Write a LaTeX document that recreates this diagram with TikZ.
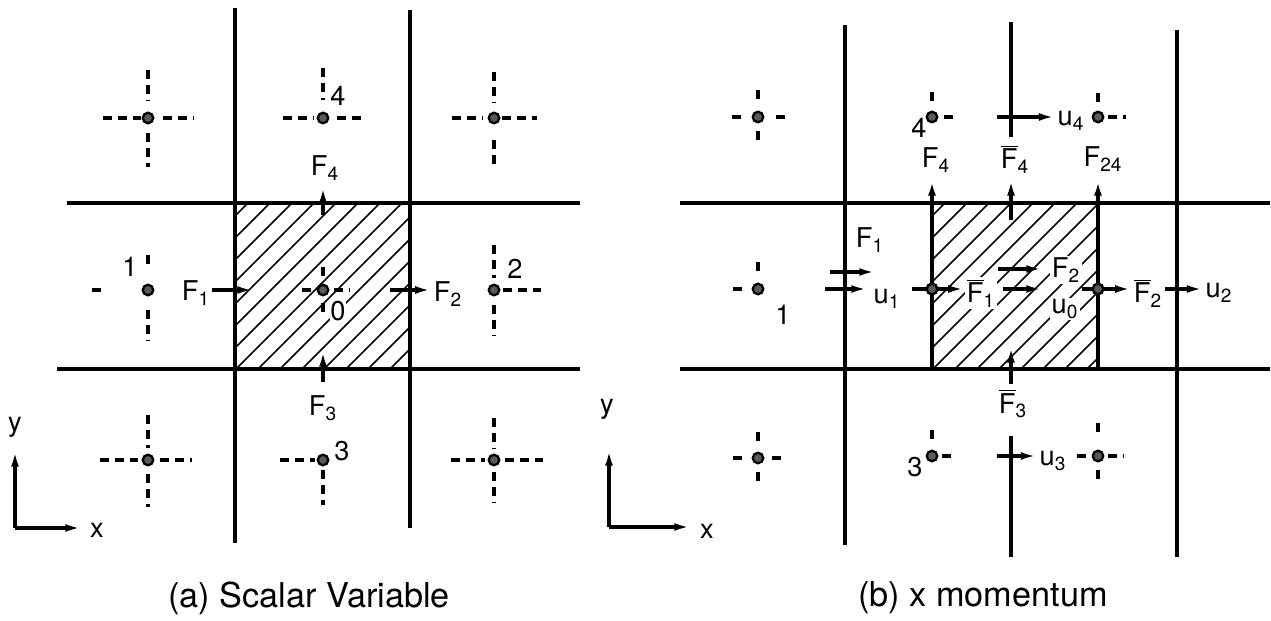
\documentclass[tikz,border=0pt]{standalone}
\usepackage{fontspec}
\setmainfont{TeX Gyre Heros}
\usetikzlibrary{arrows.meta}

\newcommand{\Fbar}[1]{$\overline{\hbox{F}}$\textsubscript{#1}}

\begin{document}
\begin{tikzpicture}[x=0.02cm, y=-0.02cm, >={Latex[length=9.5pt,width=4.4pt]},
  wall/.style={line width=2pt},
  arm/.style={line width=2pt, dash pattern=on 5pt off 3.4pt},
  pt/.style={circle, draw, fill=black!65, line width=1.3pt, inner sep=0pt, minimum size=6pt},
  flux/.style={->, line width=1.8pt},
  hatch/.style={line width=0.9pt},
  lbl/.style={font=\fontsize{15.5}{17}\selectfont, inner sep=1pt},
  figcap/.style={font=\fontsize{19.5}{22}\selectfont}]
  \useasboundingbox (0,0) rectangle (1271,621);

  % (a) scalar control volume
  \begin{scope}
    \clip (235,203) rectangle (410,369);
    \foreach \k in {0,...,16} \draw[hatch] (60+\k*22,369) -- ++(200,-200);
  \end{scope}
  \draw[wall] (235,8) -- (235,543);
  \draw[wall] (410,10) -- (410,528);
  \draw[wall] (67,203) -- (580,203);
  \draw[wall] (57,369) -- (580,369);
  % dashed crosses
  \draw[arm] (103,118) -- (142,118);  \draw[arm] (163,118) -- (193,118);
  \draw[arm] (148,70) -- (148,100);   \draw[arm] (148,133) -- (148,167);
  \draw[arm] (283,118) -- (313,118);  \draw[arm] (337,118) -- (363,118);
  \draw[arm] (323,68) -- (323,100);
  \draw[arm] (452,118) -- (483,118);  \draw[arm] (502,118) -- (537,118);
  \draw[arm] (494,72) -- (494,103);   \draw[arm] (494,140) -- (494,168);
  \draw[arm] (92,290) -- (104,290);   \draw[arm] (148,255) -- (148,266);
  \draw[arm] (148,310) -- (148,340);
  \draw[arm] (302,290) -- (313,290);  \draw[arm] (334,290) -- (350,290);
  \draw[arm] (323,267) -- (323,280);  \draw[arm] (323,303) -- (323,313);
  \draw[arm] (494,245) -- (494,278);  \draw[arm] (503,290) -- (543,290);
  \draw[arm] (494,305) -- (494,335);
  \draw[arm] (100,460) -- (141,460);  \draw[arm] (160,460) -- (192,460);
  \draw[arm] (148,415) -- (148,448);  \draw[arm] (148,474) -- (148,507);
  \draw[arm] (280,460) -- (315,460);  \draw[arm] (323,470) -- (323,505);
  \draw[arm] (451,460) -- (485,460);  \draw[arm] (505,460) -- (544,460);
  \draw[arm] (494,418) -- (494,448);  \draw[arm] (494,472) -- (494,502);
  % grid points
  \node[pt] (aNW) at (148,118) {};
  \node[pt] (aN)  at (323,118) {};
  \node[pt] (aNE) at (494,118) {};
  \node[pt] (aW)  at (148,290) {};
  \node[pt] (aC)  at (323,290) {};
  \node[pt] (aE)  at (494,290) {};
  \node[pt] (aSW) at (148,460) {};
  \node[pt] (aS)  at (323,460) {};
  \node[pt] (aSE) at (494,460) {};
  \node[lbl] (aN4) at (338,96) {4};
  \node[lbl] (aW1) at (130,267) {1};
  \node[lbl] (aE2) at (515,269) {2};
  \node[lbl, fill=white, inner sep=0.5pt] (aC0) at (338,311) {0};
  \node[lbl] (aS3) at (342,451) {3};
  % fluxes
  \node[lbl] (aF4) at (325,168) {F\textsubscript{4}};
  \node[lbl] (aF1) at (196,293) {F\textsubscript{1}};
  \node[lbl] (aF2) at (448,294) {F\textsubscript{2}};
  \node[lbl] (aF3) at (323,408) {F\textsubscript{3}};
  \draw[flux] (323,215) -- (323,186);
  \draw[flux] (aF1.east |- aW) -- (254,290);
  \draw[flux] (390,290) -- (aF2.west |- aE);
  \draw[flux] (323,382) -- (323,350);
  % axes
  \coordinate (aO) at (15,528);
  \draw[flux] (aO) -- (15,450);
  \draw[flux] (aO) -- (82,528);
  \node[lbl] (ay) at (15,427) {y};
  \node[lbl] (ax) at (97,530) {x};
  \node[figcap] (acap) at (309,598) {(a) Scalar Variable};

  % (b) x momentum control volume
  \begin{scope}
    \clip (932,203) rectangle (1098,369);
    \foreach \k in {0,...,16} \draw[hatch] (757+\k*22,369) -- ++(200,-200);
  \end{scope}
  \draw[wall] (845,25) -- (845,545);
  \draw[wall] (1011,22) -- (1011,137);
  \draw[wall] (1011,436) -- (1011,557);
  \draw[wall] (1177,30) -- (1177,557);
  \draw[wall] (680,203) -- (1270,203);
  \draw[wall] (680,369) -- (1270,369);
  % dashed crosses
  \draw[arm] (732,117) -- (744,117);  \draw[arm] (776,117) -- (787,117);
  \draw[arm] (758,90) -- (758,103);   \draw[arm] (758,131) -- (758,145);
  \draw[arm] (932,92) -- (932,105);   \draw[arm] (944,117) -- (957,117);
  \draw[arm] (1098,93) -- (1098,105); \draw[arm] (1108,117) -- (1126,117);
  \draw[arm] (733,289) -- (745,289);  \draw[arm] (758,262) -- (758,274);
  \draw[arm] (733,458) -- (746,458);  \draw[arm] (772,458) -- (786,458);
  \draw[arm] (758,432) -- (758,444);  \draw[arm] (758,472) -- (758,485);
  \draw[arm] (932,430) -- (932,443);  \draw[arm] (942,456) -- (955,456);
  \draw[arm] (1077,456) -- (1086,456); \draw[arm] (1108,456) -- (1124,456);
  \draw[arm] (1098,423) -- (1098,437); \draw[arm] (1098,470) -- (1098,482);
  % grid points
  \node[pt] (bNW) at (758,117) {};
  \node[pt] (bN)  at (932,117) {};
  \node[pt] (bNE) at (1098,117) {};
  \node[pt] (bW)  at (758,289) {};
  \node[pt] (bC)  at (932,289) {};
  \node[pt] (bE)  at (1098,289) {};
  \node[pt] (bSW) at (758,458) {};
  \node[pt] (bS)  at (932,456) {};
  \node[pt] (bSE) at (1098,456) {};
  \node[lbl] (bN4) at (919,128) {4};
  \node[lbl] (bW1) at (783,315) {1};
  \node[lbl] (bS3) at (915,467) {3};
  % faces and fluxes
  \node[lbl] (bF4)  at (936,160) {F\textsubscript{4}};
  \node[lbl] (bF4b) at (1015,159) {\Fbar{4}};
  \node[lbl] (bF24) at (1103,159) {F\textsubscript{24}};
  \draw[flux, line width=2pt] (bC) -- (932,369) -- (932,179);
  \draw[flux, line width=2pt] (bE) -- (1098,369) -- (1098,179);
  \draw[flux] (1011,220) -- (1011,179);
  \node[lbl] (bu4) at (1071,121) {u\textsubscript{4}};
  \draw[flux] (997,117) -- (bu4.west |- bN);
  \node[lbl] (bF1) at (870,240) {F\textsubscript{1}};
  \draw[flux] (830,272) -- (876,272);
  \node[lbl] (bu1) at (887,299) {u\textsubscript{1}};
  \draw[flux] (825,289) -- (868,289);
  \node[lbl, fill=white] (bF1b) at (981,293) {\Fbar{1}};
  \draw[flux] (912,289) -- (bF1b.west |- bC);
  \node[lbl, fill=white] (bF2) at (1066,270) {F\textsubscript{2}};
  \draw[flux] (998,269) -- (1043,269);
  \node[lbl, fill=white] (bu0) at (1065,309) {u\textsubscript{0}};
  \draw[flux] (1003,289) -- (1043,289);
  \node[lbl] (bF2b) at (1148,293) {\Fbar{2}};
  \draw[flux] (1082,289) -- (bF2b.west |- bE);
  \node[lbl] (bu2) at (1219,293) {u\textsubscript{2}};
  \draw[flux] (1165,289) -- (bu2.west |- bE);
  \node[lbl] (bF3b) at (1013,404) {\Fbar{3}};
  \draw[flux] (1011,384) -- (1011,346);
  \node[lbl] (bu3) at (1053,461) {u\textsubscript{3}};
  \draw[flux] (997,456) -- (bu3.west |- bS);
  \node[pt] at (bC) {};
  \node[pt] at (bE) {};
  % axes
  \coordinate (bO) at (609,527);
  \draw[flux] (bO) -- (609,449);
  \draw[flux] (bO) -- (691,527);
  \node[lbl] (by) at (607,409) {y};
  \node[lbl] (bx) at (707,531) {x};
  \node[figcap] (bcap) at (983,598) {(b) x momentum};
\end{tikzpicture}
\end{document}
